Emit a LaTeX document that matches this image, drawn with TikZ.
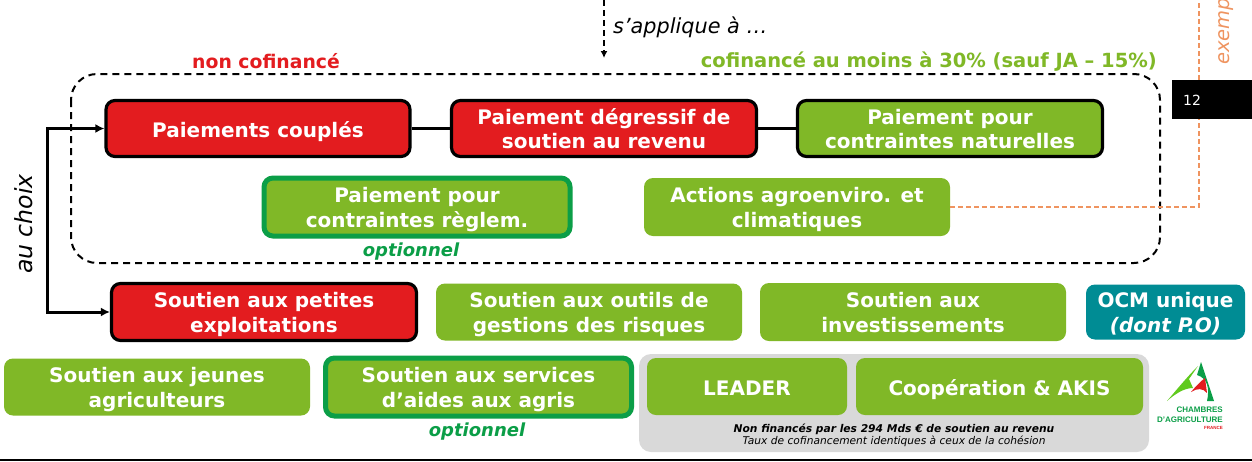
\documentclass[tikz,border=0pt]{standalone}
\usepackage{fontspec}
\setmainfont{DejaVu Sans}
\newfontfamily\logofont{Liberation Sans}
\usetikzlibrary{arrows.meta,calc,positioning}
\definecolor{agrired}{HTML}{E31C1F}
\definecolor{agrigreen}{HTML}{80B827}
\definecolor{optgreen}{HTML}{0B9E47}
\definecolor{ocmteal}{HTML}{008C94}
\definecolor{cohgrey}{HTML}{D9D9D9}
\definecolor{exorange}{HTML}{EF9460}
\tikzset{
  pilier/.style={rounded corners=9pt, align=center, inner sep=0pt, text=white,
    font=\fontsize{20}{24.5}\selectfont\bfseries, text height=40pt, text depth=0pt},
  oneline/.style={text height=17pt, text depth=0pt},
  redbox/.style={pilier, fill=agrired, draw=black, line width=3.2pt},
  greenbox/.style={pilier, fill=agrigreen},
  blackgreen/.style={pilier, fill=agrigreen, draw=black, line width=3.2pt},
  optbox/.style={pilier, fill=agrigreen, draw=optgreen, line width=5pt},
  legend/.style={inner sep=0pt, font=\fontsize{19.5}{22}\selectfont\bfseries},
  optlabel/.style={inner sep=0pt, text=optgreen, font=\fontsize{18}{22}\selectfont\bfseries\itshape},
  sidetext/.style={inner sep=0pt, font=\fontsize{23.6}{27}\selectfont\itshape},
  fleche/.style={line width=3pt, -{Latex[length=9pt,width=9pt]}},
  lien/.style={line width=3pt}
}
\begin{document}
\begin{tikzpicture}[x=1pt,y=-1pt]
  \useasboundingbox (0,0) rectangle (1252,461);
  \fill[white] (0,0) rectangle (1252,461);
  % Frame of the measures
  \draw[dashed, line width=2pt, dash pattern=on 7pt off 5pt, rounded corners=26pt] (71,74) rectangle (1160,263);
  % Orange link, runs under the page number
  \node[greenbox, minimum width=306, minimum height=58] (actions) at (797,207) {Actions agroenviro. et\\climatiques};
  \coordinate (exhaut) at (1199,0);
  \draw[exorange, dashed, line width=1.8pt, dash pattern=on 5pt off 3pt] (actions.east) -| (exhaut);
  \node[sidetext, text=exorange, rotate=90, anchor=west, font=\fontsize{19.5}{24}\selectfont\itshape] (exemple) at (1226,65) {exemp};
  % Page number
  \node[fill=black, minimum width=80, minimum height=39, inner sep=0pt] (pageno) at (1212,99.5) {};
  \node[text=white, inner sep=0pt, font=\fontsize{14}{16}\selectfont] (numero) at (1192,100) {12};
  % Top texts
  \coordinate (appl) at (604,0);
  \coordinate (applbas) at (604,58);
  \draw[dashed, line width=2pt, dash pattern=on 6pt off 4pt, -{Latex[length=7pt,width=7pt]}] (appl) -- (applbas);
  \node[sidetext, anchor=west, font=\fontsize{20.8}{24}\selectfont\itshape] (applique) at (613,27) {s’applique à …};
  \node[legend, text=agrired, font=\fontsize{18.8}{22}\selectfont\bfseries] (noncof) at (266,61) {non cofinancé};
  \node[legend, text=agrigreen, anchor=east] (cof) at (1157,61.5) {cofinancé au moins à 30\% (sauf JA – 15\%)};
  % First row inside the frame
  \node[redbox, oneline, minimum width=304, minimum height=56] (couples) at (258,128.5) {Paiements couplés};
  \node[redbox, minimum width=305, minimum height=56] (degressif) at (604,128.5) {Paiement dégressif de\\soutien au revenu};
  \node[blackgreen, minimum width=305, minimum height=56] (naturelles) at (950,128.5) {Paiement pour\\contraintes naturelles};
  \draw[lien] (couples) -- (degressif);
  \draw[lien] (degressif) -- (naturelles);
  % Second row inside the frame
  \node[optbox, minimum width=306, minimum height=58] (reglem) at (417,207) {Paiement pour\\contraintes règlem.};
  \node[optlabel] (opt1) at (411,252) {optionnel};
  % Choice arrows
  \node[redbox, minimum width=305, minimum height=57] (petites) at (264,312) {Soutien aux petites\\exploitations};
  \coordinate (choix) at (47,220);
  \draw[fleche] (choix) |- (couples.west);
  \draw[fleche] (choix) |- (petites.west);
  \node[sidetext, rotate=90] (auchoix) at (24,224) {au choix};
  % Row under the frame
  \node[greenbox, minimum width=306, minimum height=57] (risques) at (589,312) {Soutien aux outils de\\gestions des risques};
  \node[greenbox, minimum width=306, minimum height=58] (invest) at (913,312) {Soutien aux\\investissements};
  \node[pilier, fill=ocmteal, minimum width=159, minimum height=55] (ocm) at (1165.5,312) {OCM unique\\\textit{(dont P.O)}};
  % Bottom row
  \node[greenbox, minimum width=306, minimum height=57] (jeunes) at (157,387) {Soutien aux jeunes\\agriculteurs};
  \node[optbox, minimum width=306, minimum height=58] (services) at (478.5,387) {Soutien aux services\\d’aides aux agris};
  \node[optlabel] (opt2) at (477,432) {optionnel};
  % Grey block
  \node[fill=cohgrey, rounded corners=12pt, minimum width=510, minimum height=98, inner sep=0pt] (cohesion) at (894,403) {};
  \node[greenbox, oneline, minimum width=200, minimum height=57] (leader) at (747,386.5) {LEADER};
  \node[greenbox, oneline, minimum width=287, minimum height=57] (cooperation) at (999.5,386.5) {Coopération \& AKIS};
  \node[inner sep=0pt, font=\fontsize{10.7}{13}\selectfont\bfseries\itshape] (nonfin) at (894,429) {Non financés par les 294 Mds € de soutien au revenu};
  \node[inner sep=0pt, font=\fontsize{10.65}{13}\selectfont\itshape] (taux) at (894,441) {Taux de cofinancement identiques à ceux de la cohésion};
  % Logo
  \fill[agrigreen!75!green] (1167,401) .. controls (1178,388) and (1188,376) .. (1198,366) -- (1189,379) -- (1193,388) .. controls (1184,388) and (1175,394) .. (1167,401) -- cycle;
  \fill[optgreen] (1201,362) -- (1214,401) -- (1207,401) .. controls (1210,388) and (1207,378) .. (1197,375) -- cycle;
  \fill[agrired] (1191,392) .. controls (1196,386) and (1201,381) .. (1205,378) -- (1207,393) .. controls (1203,388) and (1197,388) .. (1191,392) -- cycle;
  \node[inner sep=0pt, anchor=east, text=optgreen, font=\logofont\bfseries\fontsize{8}{9}\selectfont] (chambres) at (1223,410) {CHAMBRES};
  \node[inner sep=0pt, anchor=east, text=optgreen, font=\logofont\bfseries\fontsize{8}{9}\selectfont] (dagri) at (1223,420) {D’AGRICULTURE};
  \node[inner sep=0pt, anchor=east, text=agrired, font=\logofont\bfseries\fontsize{4.5}{5}\selectfont] (france) at (1223,428) {FRANCE};
  % Bottom rule
  \coordinate (rulea) at (0,460);
  \coordinate (ruleb) at (1252,460);
  \draw[line width=1.5pt] (rulea) -- (ruleb);
\end{tikzpicture}
\end{document}
